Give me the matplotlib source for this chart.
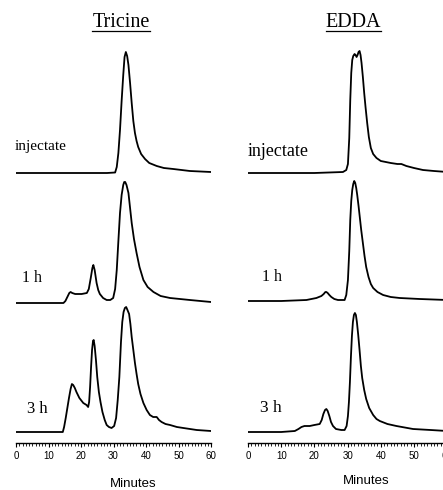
import matplotlib
matplotlib.use('Agg')
import matplotlib.pyplot as plt
from matplotlib.lines import Line2D
from matplotlib.ticker import MultipleLocator

# Chromatogram traces (time in minutes, height in detector units)
tric_inj_t = [0, 10, 20, 28, 30.5, 31.0, 31.5, 32.0, 32.5, 33.0, 33.4, 33.8, 34.2, 34.6, 35.1,
              35.6, 36.1, 36.6, 37.1, 37.6, 38.5, 39.7, 41.0, 43.3, 45.5, 48.4, 53.5, 60]
tric_inj_h = [0, 0, 0, 0, 0.5, 6, 20, 43, 72, 98, 116, 121, 117, 108, 90,
              70, 52, 40, 32, 26, 19, 14, 10, 7, 5, 4, 2, 1]

tric_1h_t = [0, 10, 14.6, 15.2, 15.8, 16.4, 16.8, 17.3, 18.2, 20.2, 21.8, 22.4, 23.0, 23.5, 23.8,
             24.2, 24.8, 25.3, 25.8, 26.8, 27.9, 29.0, 29.9, 30.5, 31.0, 31.5, 32.0, 32.5, 33.0,
             33.3, 33.6, 34.0, 34.6, 35.1, 35.6, 36.3, 37.1, 38.0, 39.2, 40.5, 42.3, 44.5, 47.4,
             53.5, 60]
tric_1h_h = [0, 0, 0, 2, 6, 10, 11, 10, 9, 9, 10, 14, 25, 35, 38,
             33, 20, 13, 9, 5, 3, 3, 5, 14, 33, 62, 90, 108, 118,
             121, 121, 118, 110, 95, 80, 64, 50, 36, 23, 16, 11, 7, 5,
             3, 1]

tric_3h_t = [0, 10, 14.4, 14.8, 15.3, 15.8, 16.3, 16.8, 17.2, 17.6, 18.1, 18.6, 19.5, 20.7, 21.7,
             22.2, 22.5, 22.8, 23.1, 23.4, 23.7, 23.9, 24.2, 24.6, 25.0, 25.5, 26.0, 26.6, 27.3,
             27.9, 28.6, 29.4, 30.2, 30.8, 31.3, 31.8, 32.3, 32.7, 33.1, 33.5, 33.9, 34.3, 34.8,
             35.2, 35.6, 36.1, 36.6, 37.1, 37.6, 38.3, 39.2, 40.2, 41.2, 42.2, 42.8, 43.3, 44.0,
             44.8, 46.0, 47.4, 49.5, 51.5, 55.6, 60]
tric_3h_h = [0, 0, 0, 5, 14, 24, 34, 43, 48, 47, 44, 40, 34, 29, 27,
             25, 30, 45, 65, 82, 91, 92, 86, 72, 55, 40, 30, 20, 12,
             7, 5, 4, 6, 14, 32, 55, 90, 110, 120, 124, 125, 122, 118,
             108, 95, 82, 69, 58, 48, 38, 29, 22, 17, 15, 15, 15, 12,
             10, 8, 7, 5, 4, 2, 1]

edda_inj_t = [0, 10, 20, 28.6, 29.6, 30.1, 30.5, 30.8, 31.1, 31.4, 31.7, 32.1, 32.4, 32.7, 33.0,
              33.3, 33.6, 33.9, 34.2, 34.6, 35.0, 35.4, 35.9, 36.4, 37.0, 37.7, 38.7, 40.0, 41.5,
              43.0, 45.0, 46.2, 47.7, 50.0, 52.7, 56.0, 60]
edda_inj_h = [0, 0, 0, 1, 3, 9, 35, 73, 100, 113, 117, 119, 118, 116, 118,
              121, 122, 118, 110, 96, 80, 66, 50, 36, 25, 19, 15, 12, 11,
              10, 9, 9, 7, 5, 3, 2, 1]

edda_1h_t = [0, 10, 17.6, 20.6, 22.1, 22.8, 23.3, 23.6, 24.0, 24.5, 25.1, 26.0, 27.1, 28.3, 29.1,
             29.6, 30.1, 30.5, 30.8, 31.1, 31.4, 31.7, 32.0, 32.3, 32.6, 32.9, 33.3, 33.7, 34.1,
             34.6, 35.1, 35.6, 36.3, 37.0, 37.7, 39.0, 40.7, 43.0, 45.7, 51.7, 60]
edda_1h_h = [0, 0, 1, 3, 5, 7, 9, 9, 8, 6, 4, 2, 1, 1, 1,
             6, 21, 50, 81, 100, 111, 117, 120, 118, 113, 106, 95, 83, 71,
             58, 45, 34, 24, 17, 13, 9, 6, 4, 3, 2, 1]

edda_3h_t = [0, 10, 14.1, 15.2, 16.1, 17.0, 18.6, 20.0, 21.6, 22.2, 22.7, 23.2, 23.6, 24.0, 24.5,
             25.0, 25.6, 26.5, 28.1, 29.1, 29.7, 30.1, 30.4, 30.7, 31.0, 31.3, 31.6, 31.9, 32.2,
             32.5, 32.8, 33.2, 33.6, 34.0, 34.4, 35.0, 35.6, 36.5, 37.7, 38.7, 39.7, 42.0, 44.7,
             49.7, 55.0, 60]
edda_3h_h = [0, 0, 1, 3, 5, 6, 6, 7, 8, 12, 18, 22, 23, 21, 16,
             10, 6, 3, 2, 2, 6, 16, 30, 50, 75, 96, 110, 117, 119,
             117, 110, 97, 82, 66, 54, 42, 33, 24, 17, 13, 11, 8, 6,
             3, 2, 1]

panel_titles = ['Tricine', 'EDDA']
trace_labels = ['injectate', '1 h', '3 h']

W, H = 443, 490
fig = plt.figure(figsize=(W / 100, H / 100), dpi=100)


def px(x, y):
    # pixel position (from top-left) -> figure fraction
    return x / W, 1 - y / H


def make_axes(x0, x60):
    # x axis 0..60 min spans x0..x60 pixels, axis line at y=443
    ax = fig.add_axes([x0 / W, (H - 443) / H, (x60 - x0) / W, 408 / H])
    ax.set_xlim(0, 60)
    ax.set_ylim(0, 408)
    for side in ['top', 'right', 'left']:
        ax.spines[side].set_visible(False)
    ax.spines['bottom'].set_linewidth(1.0)
    ax.set_yticks([])
    ax.xaxis.set_major_locator(MultipleLocator(10))
    ax.xaxis.set_minor_locator(MultipleLocator(1))
    ax.tick_params(axis='x', which='major', direction='out', length=3, width=0.8, pad=2.5,
                   labelsize=7, labelfontfamily='Liberation Sans')
    ax.tick_params(axis='x', which='minor', direction='out', length=1.8, width=0.6)
    ax.patch.set_alpha(0)
    return ax


ax_l = make_axes(16, 211)
ax_r = make_axes(248, 248 + 3.32 * 60)

# stacked traces, baselines offset in axis units
lw = 1.3
ax_l.plot(tric_inj_t, [h + 270 for h in tric_inj_h], color='black', lw=lw)
ax_l.plot(tric_1h_t, [h + 140 for h in tric_1h_h], color='black', lw=lw)
ax_l.plot(tric_3h_t, [h + 11 for h in tric_3h_h], color='black', lw=lw)

ax_r.plot(edda_inj_t, [h + 270 for h in edda_inj_h], color='black', lw=lw)
ax_r.plot(edda_1h_t, [h + 142 for h in edda_1h_h], color='black', lw=lw)
ax_r.plot(edda_3h_t, [h + 11 for h in edda_3h_h], color='black', lw=lw)

serif = 'Liberation Serif'

# panel titles (underlined)
titles = []
titles.append(fig.text(*px(121, 27), panel_titles[0], ha='center', va='baseline',
                       family=serif, fontsize=14.5))
titles.append(fig.text(*px(353.5, 27), panel_titles[1], ha='center', va='baseline',
                       family=serif, fontsize=14.5))

# trace labels
fig.text(*px(15, 150), trace_labels[0], ha='left', va='baseline', family=serif, fontsize=11)
fig.text(*px(248, 156), trace_labels[0], ha='left', va='baseline', family=serif, fontsize=13)
fig.text(*px(22, 282), trace_labels[1], ha='left', va='baseline', family=serif, fontsize=11.5)
fig.text(*px(262, 281), trace_labels[1], ha='left', va='baseline', family=serif, fontsize=11.5)
fig.text(*px(27, 413), trace_labels[2], ha='left', va='baseline', family=serif, fontsize=12)
fig.text(*px(260, 412), trace_labels[2], ha='left', va='baseline', family=serif, fontsize=12.5)

# x axis labels
fig.text(*px(133, 484), 'Minutes', ha='center', va='center', family='Liberation Sans', fontsize=9.5)
fig.text(*px(366, 481), 'Minutes', ha='center', va='center', family='Liberation Sans', fontsize=9.5)

# underline the titles
fig.canvas.draw()
renderer = fig.canvas.get_renderer()
for t in titles:
    bb = t.get_window_extent(renderer)
    y_line = 1 - 31 / H
    fig.add_artist(Line2D([bb.x0 / W, bb.x1 / W], [y_line, y_line],
                          transform=fig.transFigure, color='black', lw=0.9))

fig.savefig('out.png', dpi=100)
